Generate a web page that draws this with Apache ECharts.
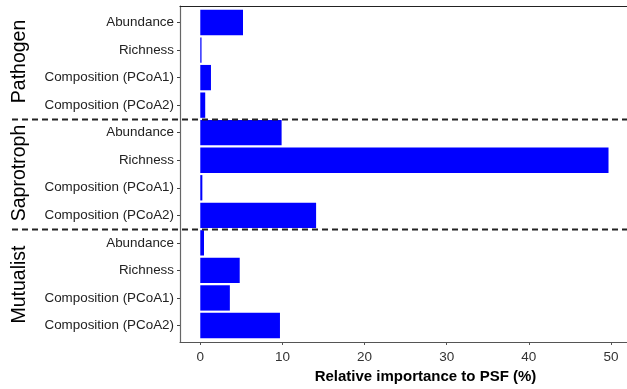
<!DOCTYPE html>
<html>
<head>
<meta charset="utf-8">
<script src="https://cdn.jsdelivr.net/npm/echarts@6/dist/echarts.min.js"></script>
<style>
  html, body { margin: 0; padding: 0; background: #fff; }
  #chart { width: 627px; height: 389px; }
</style>
</head>
<body>
<div id="chart"></div>
<script>
// Predictors, listed top to bottom, grouped by fungal guild
const guilds = ['Pathogen', 'Saprotroph', 'Mutualist'];
const predictors = ['Abundance', 'Richness', 'Composition (PCoA1)', 'Composition (PCoA2)'];

// Relative importance (%) of each predictor, per guild
const pathogenValues = [5.2, 0.15, 1.3, 0.6];
const saprotrophValues = [9.9, 49.7, 0.25, 14.1];
const mutualistValues = [0.45, 4.8, 3.6, 9.7];

const xTicks = [0, 10, 20, 30, 40, 50];

const rowLabels = [];
const rows = [];
[pathogenValues, saprotrophValues, mutualistValues].forEach(function (vals) {
  vals.forEach(function (v, i) {
    rows.push([v, rowLabels.length]);
    rowLabels.push(predictors[i]);
  });
});
const rowIndex = rowLabels.map(function (_, i) { return i; });

const font = 'Liberation Sans, Arial, Helvetica, sans-serif';
const chart = echarts.init(document.getElementById('chart'), null, { renderer: 'canvas' });

chart.setOption({
  animation: false,
  grid: { left: 180, right: 0, top: 6, bottom: 41, containLabel: false },
  xAxis: [{
    type: 'value',
    min: -2.47,
    max: 51.95,
    position: 'bottom',
    name: 'Relative importance to PSF (%)',
    nameLocation: 'middle',
    nameGap: 27,
    nameTextStyle: { fontFamily: font, fontSize: 15, fontWeight: 'bold', color: '#000', padding: [0, 0, 0, 44] },
    axisLine: { show: true, onZero: false, lineStyle: { color: '#555', width: 1.2 } },
    axisTick: { show: true, length: 3, customValues: xTicks, lineStyle: { color: '#555' } },
    axisLabel: { customValues: xTicks, fontFamily: font, fontSize: 13.5, color: '#333', margin: 8 },
    splitLine: { show: false }
  }, {
    type: 'value',
    min: -2.47,
    max: 51.95,
    position: 'top',
    axisLine: { show: true, onZero: false, lineStyle: { color: '#222', width: 1.2 } },
    axisTick: { show: false },
    axisLabel: { show: false },
    splitLine: { show: false }
  }],
  yAxis: {
    type: 'value',
    min: -0.6,
    max: 11.6,
    inverse: true,
    position: 'left',
    axisLine: { show: true, onZero: false, lineStyle: { color: '#666', width: 1.2 } },
    axisTick: { show: true, length: 3, customValues: rowIndex, lineStyle: { color: '#444' } },
    axisLabel: {
      customValues: rowIndex,
      formatter: function (v) { return rowLabels[Math.round(v)] || ''; },
      fontFamily: font, fontSize: 13.4, color: '#222', margin: 6
    },
    splitLine: { show: false }
  },
  series: [{
    type: 'custom',
    xAxisIndex: 0,
    yAxisIndex: 0,
    data: rows,
    encode: { x: 0, y: 1 },
    renderItem: function (params, api) {
      const start = api.coord([0, api.value(1)]);
      const end = api.coord([api.value(0), api.value(1)]);
      const h = api.size([0, 0.92])[1];
      return {
        type: 'rect',
        shape: { x: start[0], y: start[1] - h / 2, width: end[0] - start[0], height: h },
        style: { fill: '#0000ff' }
      };
    }
  }]
});

// Guild separators and rotated guild labels
function drawGuildDecor() {
  const toY = function (v) { return chart.convertToPixel({ yAxisIndex: 0 }, v); };
  const elements = [];
  [3.5, 7.5].forEach(function (b) {
    const y = Math.round(toY(b)) + 0.5;
    elements.push({
      type: 'line',
      shape: { x1: 12, y1: y, x2: 627, y2: y },
      style: { stroke: '#222', lineWidth: 2, lineDash: [6, 4] },
      z: 10
    });
  });
  const bounds = [-0.6, 3.5, 7.5, 11.6];
  guilds.forEach(function (g, i) {
    const yc = (toY(bounds[i]) + toY(bounds[i + 1])) / 2 - 1;
    elements.push({
      type: 'text',
      x: 19.5,
      y: yc,
      rotation: Math.PI / 2,
      style: {
        text: g,
        fontFamily: font,
        fontSize: 19.5,
        fill: '#000',
        align: 'center',
        verticalAlign: 'middle'
      }
    });
  });
  chart.setOption({ graphic: elements });
}
drawGuildDecor();
</script>
</body>
</html>
